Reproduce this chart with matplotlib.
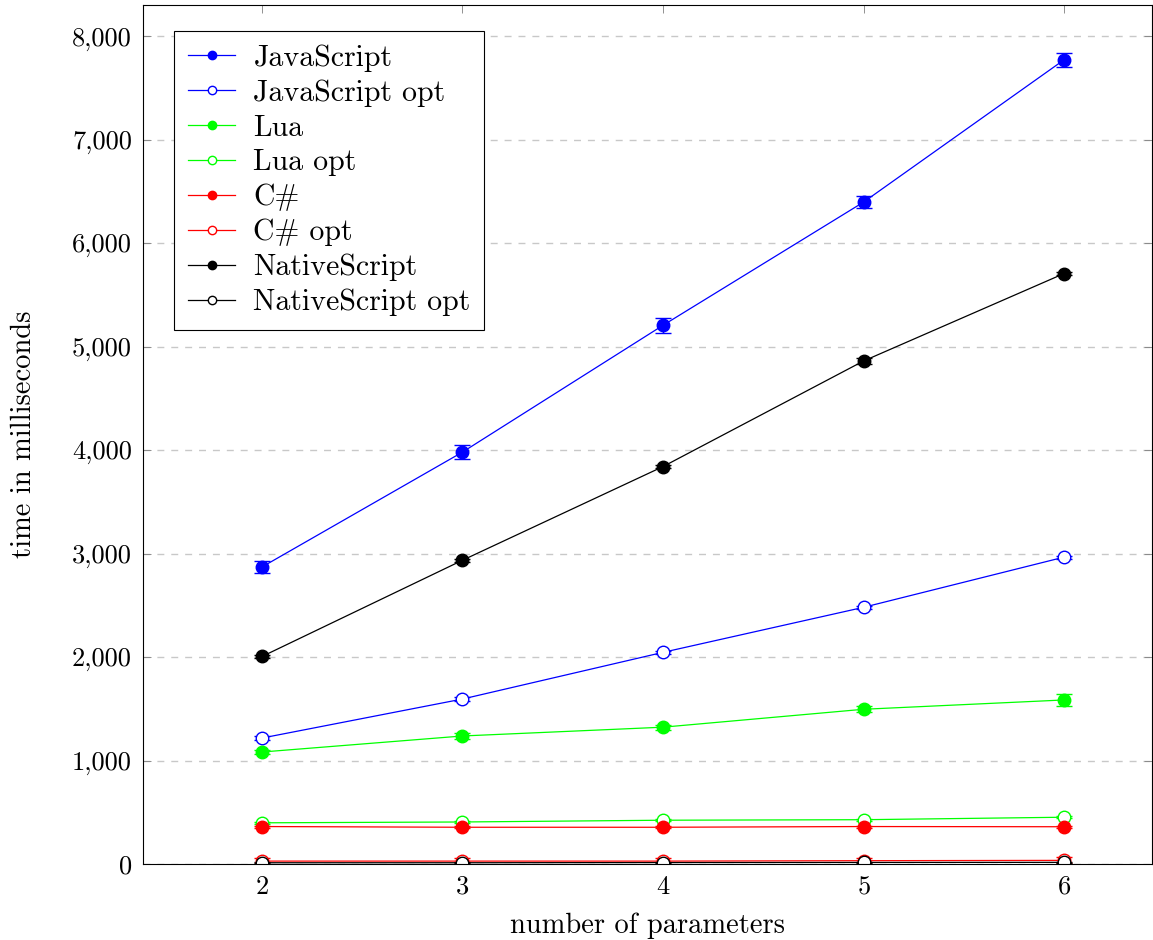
import matplotlib
matplotlib.use("Agg")
import matplotlib.pyplot as plt
from matplotlib.lines import Line2D
from matplotlib.ticker import FuncFormatter, MultipleLocator

plt.rcParams['font.family'] = ['cmr10', 'DejaVu Serif']
plt.rcParams['mathtext.fontset'] = 'cm'
plt.rcParams['axes.formatter.use_mathtext'] = True

# data
params = [2, 3, 4, 5, 6]
js = [2870, 3980, 5205, 6395, 7770]
js_err = [55, 65, 70, 55, 65]
js_opt = [1217, 1594, 2045, 2480, 2965]
js_opt_err = [15, 15, 15, 15, 15]
lua = [1082, 1237, 1322, 1495, 1585]
lua_err = [20, 25, 25, 30, 55]
lua_opt = [398, 406, 423, 428, 452]
lua_opt_err = [8, 8, 8, 8, 8]
cs = [362, 355, 355, 362, 360]
cs_err = [10, 10, 10, 10, 10]
cs_opt = [28, 28, 28, 32, 35]
cs_opt_err = [30, 30, 30, 30, 30]
ns = [2005, 2935, 3840, 4860, 5705]
ns_err = [15, 15, 15, 25, 15]
ns_opt = [12, 12, 14, 15, 16]
ns_opt_err = [5, 5, 5, 5, 5]

series = [
    ("JavaScript", js, js_err, "#0000ff", True),
    ("JavaScript opt", js_opt, js_opt_err, "#0000ff", False),
    ("Lua", lua, lua_err, "#00ff00", True),
    ("Lua opt", lua_opt, lua_opt_err, "#00ff00", False),
    ("C#", cs, cs_err, "#ff0000", True),
    ("C# opt", cs_opt, cs_opt_err, "#ff0000", False),
    ("NativeScript", ns, ns_err, "#000000", True),
    ("NativeScript opt", ns_opt, ns_opt_err, "#000000", False),
]

fig = plt.figure(figsize=(11.53, 9.40), dpi=100)
ax = fig.add_axes([143 / 1153, 76 / 940, (1152 - 143) / 1153, (864 - 5) / 940])

handles = []
for name, vals, err, col, filled in series:
    fc = col if filled else "white"
    ax.errorbar(params, vals, yerr=err, color=col, lw=0.9,
                marker="o", markersize=9,
                markerfacecolor=fc, markeredgecolor=col, markeredgewidth=1.0,
                elinewidth=1.0, capsize=6, capthick=1.0)
    handles.append(Line2D([], [], color=col, lw=0.9, marker="o", markersize=6,
                          markerfacecolor=fc, markeredgecolor=col,
                          markeredgewidth=1.0, label=name))

ax.set_xlim(2 - 119 / 200.5, 2 + 890 / 200.5)
ax.set_ylim(0, 8300)
ax.xaxis.set_major_locator(MultipleLocator(1))
ax.yaxis.set_major_locator(MultipleLocator(1000))
ax.yaxis.set_major_formatter(FuncFormatter(lambda v, p: f"{int(v):,}"))
ax.grid(axis="y", linestyle=(0, (5, 5)), color="#c8c8c8", lw=1.0)
ax.set_axisbelow(True)
ax.tick_params(direction="in", top=True, right=True, labelsize=19, length=6,
               width=0.6, color="#808080", pad=8)
for s in ax.spines.values():
    s.set_linewidth(0.8)

ax.set_xlabel("number of parameters", fontsize=20.5, labelpad=10)
ax.set_ylabel("time in milliseconds", fontsize=20.5, labelpad=25)

leg = ax.legend(handles=handles, loc="upper left", bbox_to_anchor=(0.031, 0.97),
                fontsize=21.5, fancybox=False, framealpha=1,
                edgecolor="black", handlelength=1.6, handletextpad=0.6,
                labelspacing=0.25, borderpad=0.45, borderaxespad=0)
leg.get_frame().set_linewidth(0.8)

fig.savefig("out.png", dpi=100)
